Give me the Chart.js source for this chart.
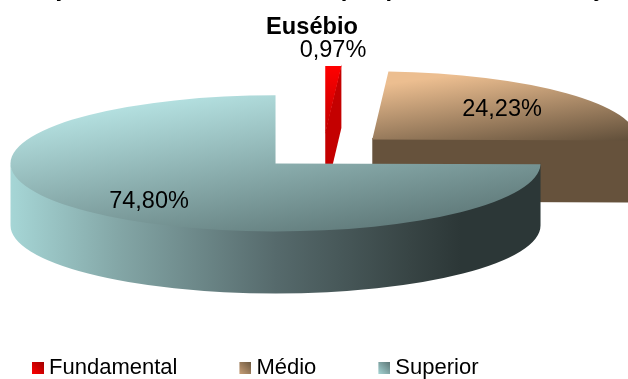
<!DOCTYPE html>
<html>
<head>
<meta charset="utf-8">
<style>
    html, body { margin: 0; padding: 0; background: #fff; overflow: hidden; }
    canvas { display: block; }
</style>
</head>
<body>
<canvas id="myChart" width="628" height="379"></canvas>
<script src="https://cdn.jsdelivr.net/npm/chart.js@4/dist/chart.umd.js"></script>
<script>
const categorias = ['Fundamental', 'Médio', 'Superior'];
const valores = [0.97, 24.23, 74.80];
const tituloLinhas = ['Formação dos docentes ativos: por professor de situações', 'Eusébio'];

// pie centre, flattening and thickness of the 3D look
const CX = 323.2, CY = 151.3, ESCALA_Y = 0.257, ALTURA = 62, RAIO = 265, EXPLODE = 67;
const ROTULOS = [[333, 51], [502, 110], [149, 202]];

function gradiente(ctx, area, x0, y0, x1, y1, cores) {
    const mx = (area.left + area.right) / 2;
    const my = (area.top + area.bottom) / 2;
    const g = ctx.createLinearGradient(mx + x0, my + y0, mx + x1, my + y1);
    cores.forEach((c, i) => g.addColorStop(i / (cores.length - 1), c));
    return g;
}

const coresTopo = [
    ['#ff0000', '#c00000'],
    ['#ecbe90', '#62503b'],
    ['#bceaea', '#5c7575']
];
const coresLado = ['#c40000', '#66523c'];

function corFatia(context) {
    const area = context.chart.chartArea;
    const cores = coresTopo[context.dataIndex];
    if (!area) return cores[0];
    if (context.dataIndex === 0) return gradiente(context.chart.ctx, area, 0, -265, 16, 0, cores);
    if (context.dataIndex === 1) return gradiente(context.chart.ctx, area, 60, -240, 200, 30, cores);
    return gradiente(context.chart.ctx, area, -180, -265, 150, 265, cores);
}

// 12px box, with 4px empty on the left so the label sits close to it
function caixaLegenda(i) {
    const c = document.createElement('canvas');
    c.width = 16; c.height = 12;
    const x = c.getContext('2d');
    const g = x.createLinearGradient(4, 12, 16, 0);
    const pares = [['#ff0000', '#a00000'], ['#c89f78', '#6b573f'], ['#a5d4d4', '#5c7575']];
    g.addColorStop(0, pares[i][0]);
    g.addColorStop(1, pares[i][1]);
    x.fillStyle = g;
    x.fillRect(4, 0, 12, 12);
    return c;
}

// flattened pie: the arcs are drawn by the library under a squashed transform
const pizza3d = {
    id: 'pizza3d',
    beforeDatasetDraw(chart, args) {
        const ctx = chart.ctx;
        const arcs = args.meta.data;
        const centro = arcs.map(a => {
            const meio = (a.startAngle + a.endAngle) / 2;
            return {
                x: CX + Math.cos(meio) * EXPLODE,
                y: CY + Math.sin(meio) * EXPLODE * ESCALA_Y
            };
        });

        function face(i, angulo, cor) {
            const p = centro[i];
            const r = arcs[i].outerRadius;
            const x2 = p.x + Math.cos(angulo) * r;
            const y2 = p.y + Math.sin(angulo) * r * ESCALA_Y;
            ctx.fillStyle = cor;
            ctx.beginPath();
            // 1.5px up so no light seam shows under the top surface
            ctx.moveTo(p.x, p.y - 1.5);
            ctx.lineTo(x2, y2 - 1.5);
            ctx.lineTo(x2, y2 + ALTURA);
            ctx.lineTo(p.x, p.y + ALTURA);
            ctx.closePath();
            ctx.fill();
        }

        function tampa(i) {
            const a = arcs[i];
            ctx.save();
            ctx.translate(centro[i].x, centro[i].y);
            ctx.scale(1, ESCALA_Y);
            ctx.translate(-a.x, -a.y);
            a.draw(ctx);
            ctx.restore();
        }

        // back to front
        face(0, arcs[0].endAngle, coresLado[0]);
        tampa(0);
        face(1, arcs[1].endAngle, coresLado[1]);
        tampa(1);

        const p = centro[2];
        const r = arcs[2].outerRadius;
        const ry = r * ESCALA_Y;
        const g = ctx.createLinearGradient(p.x - r, 0, p.x + r, 0);
        g.addColorStop(0, '#a6d6d6');
        g.addColorStop(0.2, '#84a7a7');
        g.addColorStop(0.5, '#566a6c');
        g.addColorStop(0.75, '#384545');
        g.addColorStop(0.85, '#2c3737');
        g.addColorStop(1, '#2c3737');
        ctx.fillStyle = g;
        ctx.beginPath();
        ctx.ellipse(p.x, p.y - 1.5, r, ry, 0, 0, Math.PI);
        ctx.lineTo(p.x - r, p.y + ALTURA);
        ctx.ellipse(p.x, p.y + ALTURA, r, ry, 0, Math.PI, 0, true);
        ctx.closePath();
        ctx.fill();
        tampa(2);
        return false;
    },
    afterDatasetsDraw(chart) {
        const ctx = chart.ctx;
        ctx.save();
        ctx.fillStyle = '#000';
        ctx.font = '23.5px "Liberation Sans"';
        ctx.textAlign = 'center';
        ctx.textBaseline = 'middle';
        valores.forEach((v, i) => {
            ctx.fillText(v.toFixed(2).replace('.', ',') + '%', ROTULOS[i][0], ROTULOS[i][1]);
        });
        ctx.restore();
    }
};

const ctx = document.getElementById('myChart').getContext('2d');
const myChart = new Chart(ctx, {
    type: 'pie',
    data: {
        labels: categorias,
        datasets: [{
            data: valores,
            backgroundColor: corFatia,
            borderWidth: 0,
            radius: RAIO
        }]
    },
    options: {
        responsive: false,
        animation: false,
        events: [],
        layout: { padding: { left: -30, right: -26, bottom: -10 } },
        plugins: {
            tooltip: { enabled: false },
            title: {
                display: true,
                text: tituloLinhas,
                color: '#000',
                font: { family: '"Liberation Sans"', size: 23.6, weight: 'bold', lineHeight: 1.6 },
                padding: { top: -29, bottom: 0 }
            },
            legend: {
                position: 'bottom',
                align: 'start',
                labels: {
                    color: '#000',
                    font: { family: '"Liberation Sans"', size: 22 },
                    usePointStyle: true,
                    boxWidth: 4,
                    padding: 64,
                    generateLabels: () => categorias.map((c, i) => ({
                        text: c,
                        pointStyle: caixaLegenda(i),
                        lineWidth: 0,
                        index: i
                    }))
                }
            }
        }
    },
    plugins: [pizza3d]
});
</script>
</body>
</html>
